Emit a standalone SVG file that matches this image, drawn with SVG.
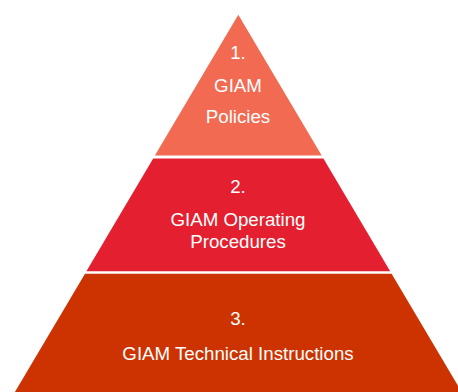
<svg xmlns="http://www.w3.org/2000/svg" width="458" height="392" viewBox="0 0 458 392">
  <style>
    .lbl { font-family: "Liberation Sans", Arial, sans-serif; font-size: 18.7px; fill: #ffffff; text-anchor: middle; }
    .t1 { fill: #F26A51; }
    .t2 { fill: #E41F2F; }
    .t3 { fill: #CC3300; }
  </style>
  <rect x="0" y="0" width="458" height="392" fill="#ffffff"/>
  <g id="tier1">
    <polygon class="t1" points="238.3,14.7 321.7,155.5 154.9,155.5"/>
    <text class="lbl" x="238" y="59">1.</text>
    <text class="lbl" x="238" y="91.7">GIAM</text>
    <text class="lbl" x="238" y="123.3">Policies</text>
  </g>
  <g id="tier2">
    <polygon class="t2" points="153.2,158.5 323.4,158.5 390.2,271.3 86.4,271.3"/>
    <text class="lbl" x="238" y="192.7">2.</text>
    <text class="lbl" x="238" y="226">GIAM Operating</text>
    <text class="lbl" x="238" y="247.5">Procedures</text>
  </g>
  <g id="tier3">
    <polygon class="t3" points="85,273.7 391.6,273.7 461.7,392 14.9,392"/>
    <text class="lbl" x="238" y="325">3.</text>
    <text class="lbl" x="238" y="360">GIAM Technical Instructions</text>
  </g>
</svg>
